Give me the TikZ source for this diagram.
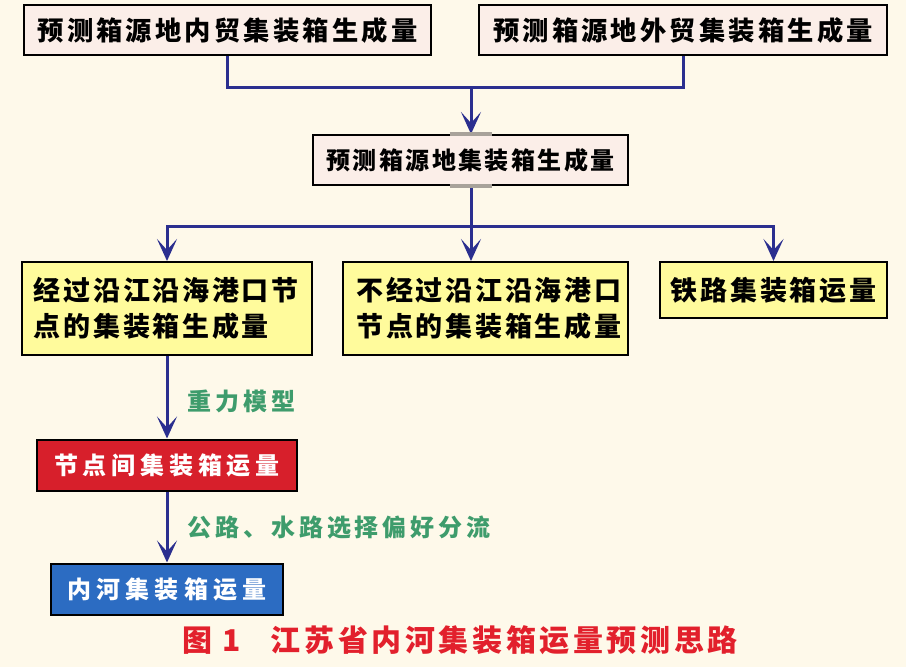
\documentclass[tikz,border=0pt]{standalone}
\usepackage{fontspec}
\setmainfont{Noto Sans CJK SC}
\usetikzlibrary{arrows.meta,positioning}

\definecolor{bgcream}{HTML}{FEF9EA}
\definecolor{pinkfill}{HTML}{FBEEE8}
\definecolor{yellowfill}{HTML}{FFFB9C}
\definecolor{redfill}{HTML}{D71F2B}
\definecolor{bluefill}{HTML}{2C6CC2}
\definecolor{flowblue}{HTML}{2B2F8F}
\definecolor{lblgreen}{HTML}{3E9C6C}
\definecolor{capred}{HTML}{E2202C}
\definecolor{tabgray}{HTML}{A8A29A}

\begin{document}
\begin{tikzpicture}[x=1pt,y=-1pt,on grid,
    box/.style={draw=black,line width=2pt,inner sep=0pt},
    srcbox/.style={box,fill=pinkfill,minimum height=50pt,
        font=\bfseries\addfontfeature{LetterSpace=12}\fontsize{26.3}{30}\selectfont},
    partbox/.style={box,fill=yellowfill,align=left,
        font=\bfseries\addfontfeature{LetterSpace=10}\fontsize{27}{36}\selectfont},
    flowbox/.style={box,text=white,minimum height=51pt,
        font=\bfseries\addfontfeature{LetterSpace=20}\fontsize{24}{28}\selectfont},
    flow/.style={draw=flowblue,line width=3pt},
    arrow/.style={flow,-{Stealth[length=22pt,width=20pt,inset=11pt]}},
    lbl/.style={text=lblgreen,anchor=west,xshift=16pt,
        font=\bfseries\addfontfeature{LetterSpace=16}\fontsize{24}{28}\selectfont}]
    \fill[bgcream] (0,0) rectangle (906,667);

    % source boxes
    \node[srcbox,minimum width=407pt] (inner) at (227.5,30) {预测箱源地内贸集装箱生成量};
    \node[srcbox,minimum width=408pt] (outer) [right=455.5pt of inner] {预测箱源地外贸集装箱生成量};
    \node[srcbox,minimum width=315pt,
        font=\bfseries\addfontfeature{LetterSpace=10}\fontsize{24}{28}\selectfont]
        (total) at (470.5,160) {预测箱源地集装箱生成量};

    % split boxes
    \node[partbox,minimum width=290pt,minimum height=93pt,text width=266pt] (pass) at (167,308.5)
        {经过沿江沿海港口节\\点的集装箱生成量};
    \node[partbox,minimum width=285pt,minimum height=93pt,text width=258pt] (nopass) [right=318.5pt of pass]
        {不经过沿江沿海港口\\节点的集装箱生成量};
    \node[partbox,minimum width=227pt,minimum height=56pt,align=center] (rail) at (773.5,290)
        {铁路集装箱运量};

    % model chain
    \node[flowbox,fill=redfill,minimum width=260pt] (between) [below=156.5pt of pass] {节点间集装箱运量};
    \node[flowbox,fill=bluefill,minimum width=232pt,
        font=\bfseries\addfontfeature{LetterSpace=22}\fontsize{24}{28}\selectfont]
        (river) [below=124pt of between] {内河集装箱运量};

    % connectors
    \coordinate (join) at (471,87);
    \coordinate (split) at (471,226);
    \draw[flow] (inner.south) |- (join) -| (outer.south);
    \draw[arrow] (join) -- (join |- total.north);
    \draw[flow] (join |- total.south) -- (split);
    \draw[arrow] (split) -| (pass.north);
    \draw[arrow] (split) -- (split |- nopass.north);
    \draw[arrow] (split) -| (rail.north);
    \draw[arrow] (pass.south) -- node[lbl,yshift=-4pt] {重力模型} (between.north);
    \draw[arrow] (between.south) -- node[lbl,yshift=-1pt] {公路、水路选择偏好分流} (river.north);

    % small gray tabs on the middle box
    \draw[tabgray,line width=4pt] ([xshift=-21pt]total.north) -- ([xshift=21pt]total.north);
    \draw[tabgray,line width=4pt] ([xshift=-21pt]total.south) -- ([xshift=21pt]total.south);

    % caption
    \node[text=capred,font=\bfseries\addfontfeature{LetterSpace=12}\fontsize{30}{34}\selectfont]
        (caption) at (460,640) {图 1\hspace{30pt}江苏省内河集装箱运量预测思路};
\end{tikzpicture}
\end{document}
